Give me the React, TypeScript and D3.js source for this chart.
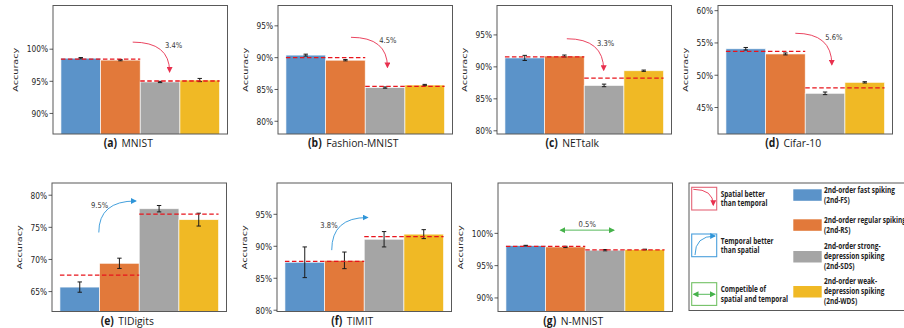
import React from 'react';
import * as d3 from 'd3';

// datasets / panels
const datasets = ['MNIST', 'Fashion-MNIST', 'NETtalk', 'Cifar-10', 'TIDigits', 'TIMIT', 'N-MNIST'];
const panelTags = ['(a)', '(b)', '(c)', '(d)', '(e)', '(f)', '(g)'];

// accuracy (%) per series, one entry per dataset
const fsAcc = [98.6, 90.4, 91.4, 54.1, 65.7, 87.5, 98.1];
const rsAcc = [98.3, 89.6, 91.7, 53.3, 69.4, 87.8, 97.9];
const sdsAcc = [94.9, 85.3, 87.1, 47.2, 77.9, 91.1, 97.4];
const wdsAcc = [95.2, 85.7, 89.4, 48.9, 76.2, 91.9, 97.5];

// error bar half-widths
const fsErr = [0.1, 0.15, 0.4, 0.2, 0.8, 2.4, 0.05];
const rsErr = [0.1, 0.1, 0.15, 0.15, 0.8, 1.3, 0.1];
const sdsErr = [0.1, 0.1, 0.2, 0.2, 0.5, 1.2, 0.1];
const wdsErr = [0.25, 0.1, 0.1, 0.1, 1.0, 0.7, 0.05];

// y axes
const yDomains = [[86.8, 106.8], [78, 98.2], [79.5, 99.6], [40.9, 60.8], [61.9, 81.9], [79.8, 99.9], [87.9, 107.8]];
const yTicks = [[90, 95, 100], [80, 85, 90, 95], [80, 85, 90, 95], [45, 50, 55, 60], [65, 70, 75, 80], [80, 85, 90, 95], [90, 95, 100]];

// gap annotations (data coords: x in bar units, y in %)
const gapLabels = ['3.4%', '4.5%', '3.3%', '5.6%', '9.5%', '3.8%', '0.5%'];
const gapKind = ['spatial', 'spatial', 'spatial', 'spatial', 'temporal', 'temporal', 'both'];
const arrowFromX = [1.81, 1.64, 1.56, 1.75, 0.98, 1.18, 1.38];
const arrowFromY = [101.1, 93.2, 94.4, 56.5, 74.2, 89.4, 100.5];
const arrowToX = [2.74, 2.56, 2.49, 2.67, 1.91, 2.08, 2.72];
const arrowToY = [96.5, 88.5, 89.5, 51.65, 79.1, 94.5, 100.5];
const labelX = [2.84, 2.57, 2.54, 2.72, 1.0, 1.11, 2.05];
const labelY = [100.6, 92.8, 93.75, 55.9, 78.4, 93.4, 101.5];

const seriesColors = ['#5b93c9', '#e2793a', '#a5a5a5', '#f0b925'];
const seriesLegend = [
  ['2nd-order fast spiking', '(2nd-FS)'],
  ['2nd-order regular spiking', '(2nd-RS)'],
  ['2nd-order strong-', 'depression spiking', '(2nd-SDS)'],
  ['2nd-order weak-', 'depression spiking', '(2nd-WDS)']
];
const trendLegend = [
  ['Spatial better', 'than temporal'],
  ['Temporal better', 'than spatial'],
  ['Competible of', 'spatial and temporal']
];
const trendColors = { spatial: '#e8304e', temporal: '#2f95d8', both: '#45b24a' };
const trendBoxColors = ['#e36477', '#4a9fdc', '#73c165'];

// layout
const panelLeft = [53, 278, 497, 718, 52, 277, 498];
const panelTop = [5.5, 5.5, 5.5, 5.5, 183, 183, 183];
const PW = 174.5;
const PH = 128.5;
const SX = 0.8; // figure is squeezed horizontally

function arrowPath(kind, x1, y1, x2, y2) {
  if (kind === 'spatial') return `M${x1},${y1} Q${x2},${y1} ${x2},${y2}`;
  if (kind === 'temporal') return `M${x1},${y1} Q${x1},${y2} ${x2},${y2}`;
  return `M${x1},${y1} L${x2},${y2}`;
}

function Panel({ i }) {
  const x = d3.scaleLinear().domain([-0.2, 4.2]).range([0, PW]);
  const y = d3.scaleLinear().domain(yDomains[i]).range([PH, 0]);
  const vals = [fsAcc[i], rsAcc[i], sdsAcc[i], wdsAcc[i]];
  const errs = [fsErr[i], rsErr[i], sdsErr[i], wdsErr[i]];
  const means = [d3.mean(vals.slice(0, 2)), d3.mean(vals.slice(2))];
  const kind = gapKind[i];
  const col = trendColors[kind];

  return (
    <g transform={`translate(${panelLeft[i]},${panelTop[i]})`}>
      <defs>
        <clipPath id={`clip${i}`}>
          <rect width={PW} height={PH} />
        </clipPath>
      </defs>
      <g clipPath={`url(#clip${i})`}>
        {vals.map((v, j) => (
          <rect key={j} x={x(j)} width={x(j + 1) - x(j)} y={y(v)} height={PH - y(v) + 5}
            fill={seriesColors[j]} stroke="#ffffff" strokeOpacity={0.8} strokeWidth={0.8} />
        ))}
        {vals.map((v, j) => {
          const cx = x(j + 0.5);
          return (
            <g key={j} stroke="#1a1a1a" strokeWidth={1}>
              <line x1={cx} x2={cx} y1={y(v - errs[j])} y2={y(v + errs[j])} />
              <line x1={cx - 2.2} x2={cx + 2.2} y1={y(v - errs[j])} y2={y(v - errs[j])} />
              <line x1={cx - 2.2} x2={cx + 2.2} y1={y(v + errs[j])} y2={y(v + errs[j])} />
            </g>
          );
        })}
        {means.map((m, k) => (
          <line key={k} x1={x(2 * k)} x2={x(2 * k + 2)} y1={y(m)} y2={y(m)}
            stroke="#e8141c" strokeWidth={1.3} strokeDasharray="4.5 2.5" />
        ))}
      </g>
      <rect width={PW} height={PH} fill="none" stroke="#595959" strokeWidth={1} />
      {yTicks[i].map(t => (
        <g key={t} transform={`translate(0,${y(t)})`}>
          <line x1={-3.5} x2={0} stroke="#333" strokeWidth={0.8} />
          <text transform={`translate(-5,3.3) scale(${SX},1)`} textAnchor="end"
            fontFamily="DejaVu Sans" fontSize={9.3} fill="#262626">{t}%</text>
        </g>
      ))}
      <text transform={`translate(${yTicks[i][yTicks[i].length - 1] >= 100 ? -35 : -30},${PH / 2}) scale(${SX},1) rotate(-90)`}
        textAnchor="middle" fontFamily="DejaVu Sans" fontSize={9.6} fill="#262626">Accuracy</text>
      <text transform={`translate(${PW / 2 - 12},${PH + 13}) scale(0.9,1)`} textAnchor="middle"
        fontFamily="Open Sans" fontSize={11.5} fill="#1a1a1a">
        <tspan fontWeight={700}>{panelTags[i]}</tspan>
        <tspan dx={5}>{datasets[i]}</tspan>
      </text>
      <path d={arrowPath(kind, x(arrowFromX[i]), y(arrowFromY[i]), x(arrowToX[i]), y(arrowToY[i]))}
        fill="none" stroke={col} strokeWidth={0.9}
        markerEnd={`url(#head-${kind})`} markerStart={kind === 'both' ? `url(#head-${kind})` : undefined} />
      <text transform={`translate(${x(labelX[i])},${y(labelY[i]) + 3}) scale(0.85,1)`} textAnchor="middle"
        fontFamily="DejaVu Sans" fontSize={8} fill="#333">{gapLabels[i]}</text>
    </g>
  );
}

function Legend() {
  const boxY = [187.3, 234, 282.7];
  const kinds = ['spatial', 'temporal', 'both'];
  const swatchY = [189.3, 219.3, 251, 286];
  const labelTop = [192.6, 223.3, 249.3, 284];
  const lfont = { fontFamily: 'Open Sans', fontSize: 8.3, fontWeight: 700, fill: '#222' };
  return (
    <g>
      <rect x={689} y={183} width={240} height={127.5} fill="#fff" stroke="#595959" strokeWidth={1} />
      {kinds.map((k, n) => {
        const bx = 691.7, by = boxY[n];
        const p = k === 'spatial'
          ? arrowPath(k, bx + 1.6, by + 2, bx + 21.6, by + 17.7)
          : k === 'temporal'
            ? arrowPath(k, bx + 3.3, by + 21, bx + 23.3, by + 2)
            : arrowPath(k, bx + 2, by + 11.6, bx + 23, by + 11.6);
        return (
          <g key={k}>
            <rect x={bx} y={by} width={25} height={22.7} fill="none" stroke={trendBoxColors[n]} strokeWidth={1.1} />
            <path d={p} fill="none" stroke={trendColors[k]} strokeWidth={0.9}
              markerEnd={`url(#head-${k})`} markerStart={k === 'both' ? `url(#head-${k})` : undefined} />
            {trendLegend[n].map((s, m) => (
              <text key={m} transform={`translate(720.7,${by + 9.7 + m * 9.4}) scale(0.78,1)`} {...lfont}>{s}</text>
            ))}
          </g>
        );
      })}
      {seriesLegend.map((lines, n) => (
        <g key={n}>
          <rect x={793.3} y={swatchY[n]} width={28.4} height={11.5} fill={seriesColors[n]} />
          {lines.map((s, m) => (
            <text key={m} transform={`translate(824,${labelTop[n] + m * 9.9}) scale(0.78,1)`} {...lfont}>{s}</text>
          ))}
        </g>
      ))}
    </g>
  );
}

export default function App() {
  return (
    <div style={{ position: 'absolute', left: 0, top: 0 }}>
      <svg width={904} height={328} style={{ display: 'block', background: '#fff' }}>
        <defs>
          {Object.entries(trendColors).map(([k, c]) => (
            <marker key={k} id={`head-${k}`} viewBox="0 0 10 10" refX={8} refY={5}
              markerWidth={6} markerHeight={6} markerUnits="userSpaceOnUse" orient="auto-start-reverse">
              <path d="M0,0 L10,5 L0,10 z" fill={c} />
            </marker>
          ))}
        </defs>
        {datasets.map((_, i) => <Panel key={i} i={i} />)}
        <Legend />
      </svg>
    </div>
  );
}
